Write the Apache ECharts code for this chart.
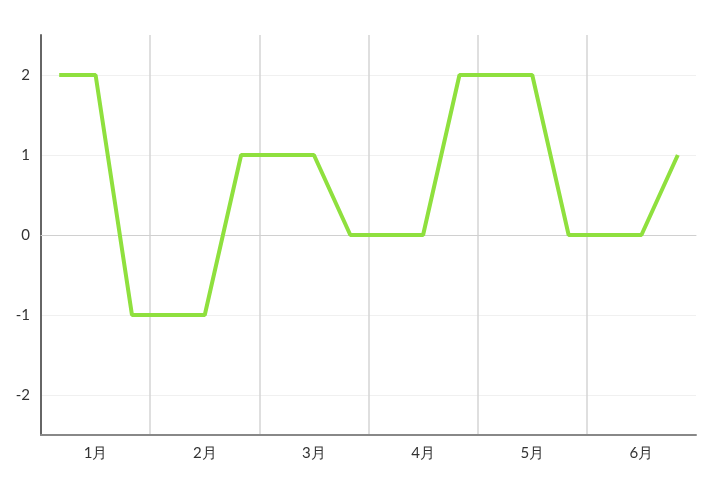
<!DOCTYPE html>
<html><head><meta charset="utf-8">
<script src="https://cdn.jsdelivr.net/npm/echarts@6/dist/echarts.min.js"></script>
<style>html,body{margin:0;padding:0;background:#fff}#c{width:720px;height:489px}</style>
</head><body><div id="c"></div>
<script>
const months = ['1月','2月','3月','4月','5月','6月'];
const points = ['1','2','3','4','5','6','7','8','9','10','11','12','13','14','15','16','17','18'];
const values = [2,2,-1,-1,-1,1,1,1,0,0,0,2,2,2,0,0,0,1];
const yTicks = [-2,-1,0,1,2];

const chart = echarts.init(document.getElementById('c'));
chart.setOption({
  animation:false,
  grid:{left:41,right:24,top:35,bottom:54,containLabel:false},
  xAxis:[{
    type:'category', data:months, boundaryGap:true, position:'bottom',
    axisLine:{onZero:false,lineStyle:{color:'#888',width:2}},
    axisTick:{show:false},
    axisLabel:{color:'#333',fontSize:15,margin:11,fontFamily:'Lato, sans-serif'},
    splitLine:{show:true,lineStyle:{color:['rgba(0,0,0,0)','#d4d4d4','#d4d4d4','#d4d4d4','#d4d4d4','#d4d4d4','rgba(0,0,0,0)'],width:1.5}}
  },{
    type:'category', data:points, boundaryGap:true, position:'top',
    axisLine:{show:true,onZero:true,lineStyle:{color:'#d0d0d0',width:1}},
    axisTick:{show:false}, axisLabel:{show:false}, splitLine:{show:false}
  }],
  yAxis:{
    type:'value', min:-2.5, max:2.5, splitNumber:5,
    axisLine:{show:true,lineStyle:{color:'#666',width:2}},
    axisTick:{show:false},
    axisLabel:{color:'#333',fontSize:15,margin:11,showMinLabel:false,showMaxLabel:false,fontFamily:'Lato, sans-serif',
      formatter:function(v){return yTicks.indexOf(v)>=0?String(v):'';}},
    splitLine:{show:true,lineStyle:{color:['rgba(0,0,0,0)','#f0f0f0','#f0f0f0','#f0f0f0','#f0f0f0','#f0f0f0','rgba(0,0,0,0)'],width:1}}
  },
  series:[{
    type:'line', xAxisIndex:1, data:values, symbol:'none',
    lineStyle:{color:'#8fe03e',width:4}
  }]
});
</script></body></html>
